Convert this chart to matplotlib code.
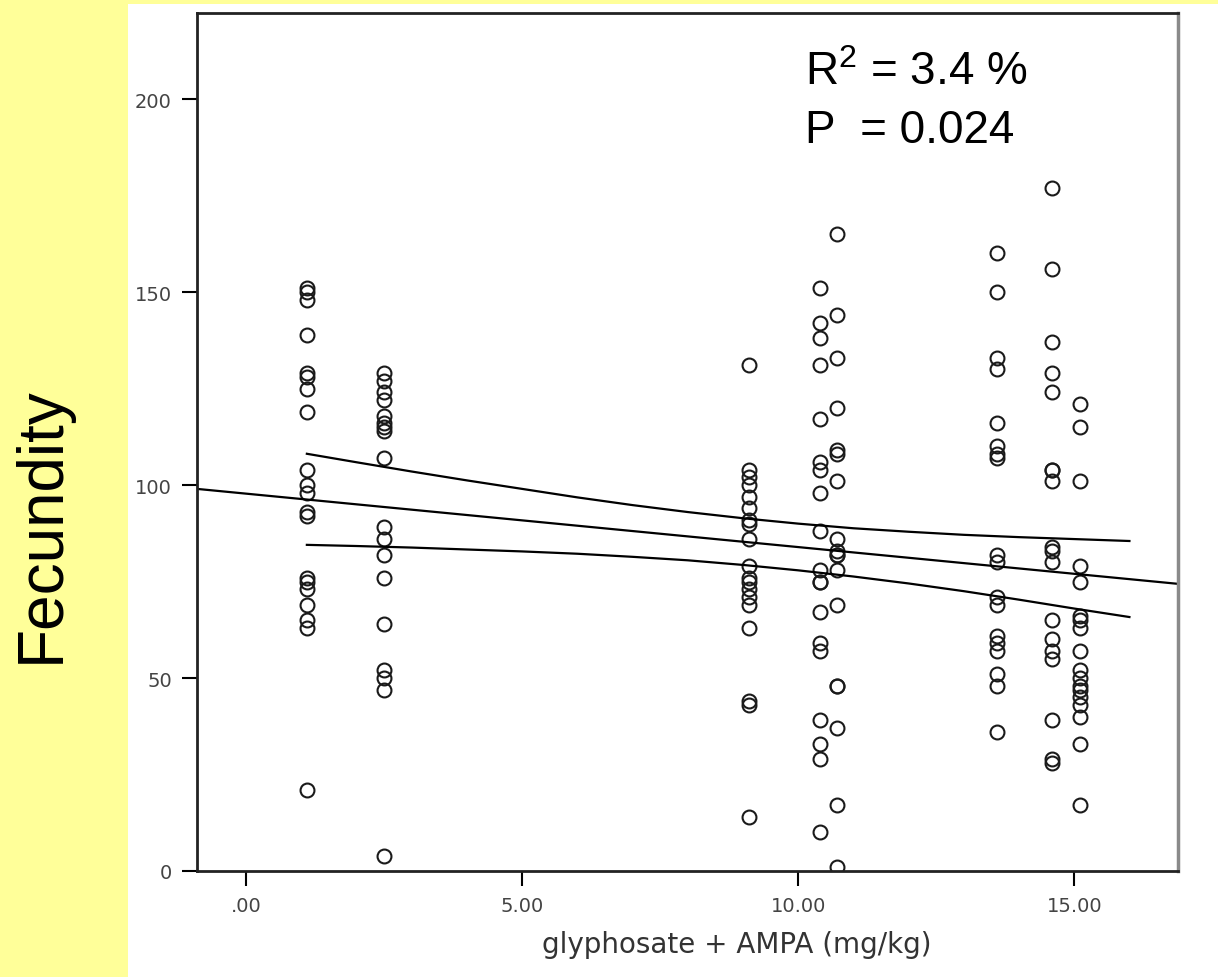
import numpy as np
import matplotlib
matplotlib.use("Agg")
import matplotlib.pyplot as plt
from matplotlib.patches import Rectangle

# --- data ---
col_x = [1.1, 2.5, 9.11, 10.4, 10.71, 13.6, 14.6, 15.11]
col_y = [
    [151, 150, 148, 139, 129, 128, 125, 119, 104, 100, 98, 93, 92, 76, 75, 73, 69, 65, 63, 21],
    [129, 127, 124, 122, 118, 116, 115, 114, 107, 89, 86, 82, 76, 64, 52, 50, 47, 4],
    [131, 104, 102, 100, 97, 94, 91, 90, 86, 79, 76, 75, 73, 71, 69, 63, 44, 43, 14],
    [151, 142, 138, 131, 117, 106, 104, 98, 88, 78, 75, 75, 67, 59, 57, 39, 33, 29, 10],
    [165, 144, 133, 120, 109, 108, 101, 86, 83, 82, 82, 78, 69, 48, 48, 37, 17, 1],
    [160, 150, 133, 130, 116, 110, 108, 107, 82, 80, 71, 69, 61, 59, 57, 51, 48, 36],
    [177, 156, 137, 129, 124, 104, 104, 101, 84, 83, 80, 65, 60, 57, 55, 39, 29, 28],
    [121, 115, 101, 79, 75, 66, 65, 63, 57, 52, 50, 48, 47, 45, 43, 40, 33, 17],
]

# fitted line (ends at the axis edges)
fit_x = [-0.89, 16.88]
fit_y = [99.0, 74.4]

# confidence band
band_x = [1.1, 2, 3, 4, 5, 6, 7, 8, 9, 10, 11, 12, 13, 14, 15, 16]
band_upper = [108.1, 105.9, 103.5, 101.2, 99.0, 96.8, 94.8, 93.0, 91.4, 90.0,
              88.8, 87.9, 87.1, 86.5, 86.0, 85.5]
band_lower = [84.5, 84.2, 83.8, 83.3, 82.8, 82.2, 81.4, 80.5, 79.3, 77.9,
              76.3, 74.5, 72.5, 70.3, 68.0, 65.8]

xticks = [0, 5, 10, 15]
xtick_labels = [".00", "5.00", "10.00", "15.00"]
yticks = [0, 50, 100, 150, 200]

plt.rcParams["mathtext.fontset"] = "custom"
plt.rcParams["mathtext.rm"] = "Liberation Sans"
plt.rcParams["mathtext.it"] = "Liberation Sans"

W, H = 1218, 978
fig = plt.figure(figsize=(W / 100, H / 100), dpi=100)
fig.patch.set_facecolor("#ffff99")
# white panel behind the chart
fig.patches.append(Rectangle((128 / W, 0), 1 - 128 / W, 1 - 5 / H,
                             transform=fig.transFigure, facecolor="white",
                             edgecolor="none", zorder=-10))

ax = fig.add_axes([197 / W, 1 - 872 / H, (1178 - 197) / W, (872 - 14) / H])
ax.set_zorder(5)
ax.set_facecolor("white")

xs = np.concatenate([[x] * len(ys) for x, ys in zip(col_x, col_y)])
ys = np.concatenate(col_y)
ax.plot(xs, ys, linestyle="none", marker="o", markersize=10,
        markerfacecolor="none", markeredgecolor="#1a1a1a", markeredgewidth=1.5)

ax.plot(fit_x, fit_y, color="black", lw=1.6)
ax.plot(band_x, band_upper, color="black", lw=1.6)
ax.plot(band_x, band_lower, color="black", lw=1.6)

ax.set_xlim(-0.89, 16.88)
ax.set_ylim(0, 222.3)
ax.set_xticks(xticks)
ax.set_xticklabels(xtick_labels)
ax.set_yticks(yticks)
ax.tick_params(axis="both", direction="out", length=11, width=1.5,
               labelsize=14, labelcolor="#444444", pad=7)

for side in ["left", "bottom", "top"]:
    ax.spines[side].set_linewidth(2)
    ax.spines[side].set_color("#222222")
ax.spines["right"].set_linewidth(2.5)
ax.spines["right"].set_color("#8a8a8a")

fig.text(737 / W, 1 - 945 / H, "glyphosate + AMPA (mg/kg)", ha="center",
         va="center", fontsize=20, color="#333333", zorder=10)
fig.text(42 / W, 1 - 525 / H, "Fecundity", rotation=90, ha="center",
         va="center", fontsize=46, family="Liberation Sans", zorder=10)

fig.text(805 / W, 1 - 85 / H, r"R$^2$ = 3.4 %", ha="left", va="baseline",
         fontsize=33, family="Liberation Sans", zorder=10)
fig.text(805 / W, 1 - 143 / H, "P  = 0.024", ha="left", va="baseline",
         fontsize=33, family="Liberation Sans", zorder=10)

fig.savefig("out.png", dpi=100)
